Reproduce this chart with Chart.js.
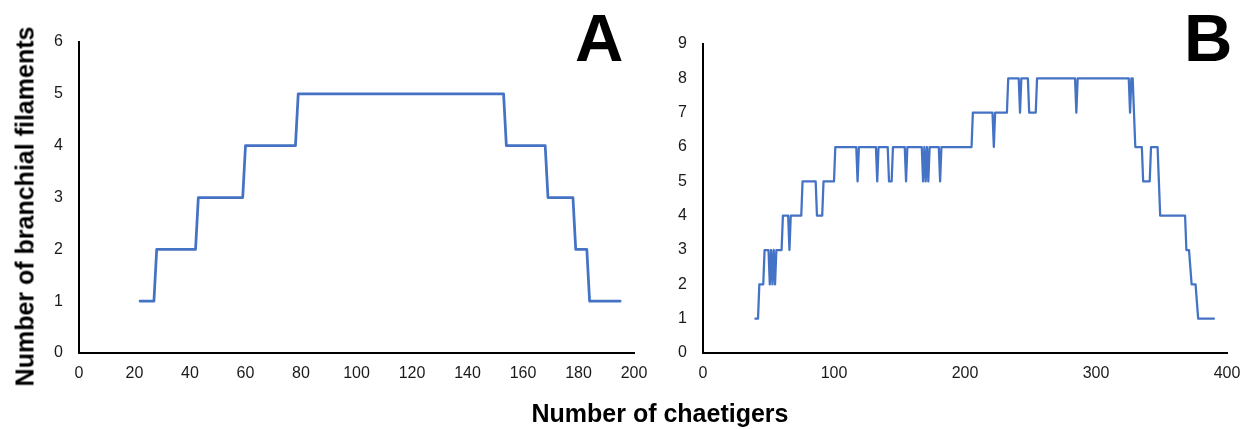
<!DOCTYPE html>
<html>
<head>
<meta charset="utf-8">
<script src="https://cdn.jsdelivr.net/npm/chart.js@4.4.1/dist/chart.umd.min.js"></script>
<style>
  html, body { margin: 0; padding: 0; background: #fff; }
  body { width: 1244px; height: 429px; position: relative; overflow: hidden; font-family: "Liberation Sans", Arial, sans-serif; }
  canvas { position: absolute; top: 0; }
  .lbl { position: absolute; font-weight: bold; color: #000; white-space: nowrap; }
</style>
</head>
<body>
<canvas id="chartA" width="660" height="429" style="left:0px;width:660px;height:429px"></canvas>
<canvas id="chartB" width="584" height="429" style="left:660px;width:584px;height:429px"></canvas>
<div class="lbl" style="left:575px;top:4px;font-size:67px;line-height:67px;">A</div>
<div class="lbl" style="left:1184px;top:4px;font-size:67px;line-height:67px;">B</div>
<div class="lbl" style="left:460px;top:401px;width:400px;text-align:center;font-size:25px;line-height:25px;">Number of chaetigers</div>
<div class="lbl" style="left:-175px;top:194px;width:400px;text-align:center;font-size:25px;line-height:25px;transform:rotate(-90deg);transform-origin:center center;">Number of branchial filaments</div>
<script>
// ---- Panel A data (chaetiger number, number of branchial filaments) ----
const chaetigersA = [22, 27, 28, 42, 43, 59, 60, 78, 79, 153, 154, 168, 169, 178, 179, 183, 184, 195];
const filamentsA  = [ 1,  1,  2,  2,  3,  3,  4,  4,  5,   5,   4,   4,   3,   3,   2,   2,   1,   1];

// ---- Panel B data ----
const chaetigersB = [40, 42, 43, 46, 47, 50, 51, 52, 53, 54, 55, 56, 60, 61, 65, 66, 67, 75, 76, 86,
                     87, 91, 92, 100, 101, 117, 118, 119, 132, 133, 134, 141, 142, 144, 145, 154, 155, 156, 167, 168,
                     169, 170, 171, 172, 173, 174, 180, 181, 182, 205, 206, 221, 222, 223, 232, 233, 241, 242, 243, 248,
                     249, 254, 255, 284, 285, 286, 325, 326, 327, 328, 330, 335, 336, 341, 342, 346, 347, 348, 349, 368,
                     369, 371, 373, 376, 378, 390];
const filamentsB  = [1, 1, 2, 2, 3, 3, 2, 3, 2, 3, 2, 3, 3, 4, 4, 3, 4, 4, 5, 5,
                     4, 4, 5, 5, 6, 6, 5, 6, 6, 5, 6, 6, 5, 5, 6, 6, 5, 6, 6, 5,
                     6, 5, 6, 5, 6, 6, 6, 5, 6, 6, 7, 7, 6, 7, 7, 8, 8, 7, 8, 8,
                     7, 7, 8, 8, 7, 8, 8, 7, 8, 8, 6, 6, 5, 5, 6, 6, 6, 5, 4, 4,
                     3, 3, 2, 2, 1, 1];

// ---- Axis ticks ----
const xTicksA = [0, 20, 40, 60, 80, 100, 120, 140, 160, 180, 200];
const yTicksA = [0, 1, 2, 3, 4, 5, 6];
const xTicksB = [0, 100, 200, 300, 400];
const yTicksB = [0, 1, 2, 3, 4, 5, 6, 7, 8, 9];

const LINE_COLOR = '#4472C4';
const TICK_FONT = { family: '"Liberation Sans", Arial, sans-serif', size: 16 };
const TICK_COLOR = '#1a1a1a';

function toPoints(xs, ys) { return xs.map((x, i) => ({ x: x, y: ys[i] })); }

function makeChart(id, xs, ys, xTicks, yTicks, opts) {
  const xMin = xTicks[0], xMax = xTicks[xTicks.length - 1];
  const yMin = yTicks[0], yMax = yTicks[yTicks.length - 1];
  return new Chart(document.getElementById(id), {
    type: 'line',
    data: {
      datasets: [{
        data: toPoints(xs, ys),
        borderColor: LINE_COLOR,
        borderWidth: opts.lineWidth,
        pointRadius: 0,
        tension: 0,
        fill: false,
        borderJoinStyle: 'round',
        borderCapStyle: 'round'
      }]
    },
    options: {
      responsive: false,
      animation: false,
      devicePixelRatio: 1,
      layout: { padding: { top: opts.top, right: opts.right, left: 0, bottom: 0 } },
      plugins: { legend: { display: false }, tooltip: { enabled: false } },
      scales: {
        x: {
          type: 'linear',
          min: xMin, max: xMax,
          afterBuildTicks: (s) => { s.ticks = xTicks.map(v => ({ value: v })); },
          afterFit: (s) => { s.height = opts.xAxisH; s.paddingLeft = 0; s.paddingRight = 0; },
          grid: { display: false, drawTicks: false },
          border: { display: true, color: '#000', width: 2 },
          ticks: { font: TICK_FONT, color: TICK_COLOR, padding: 11, maxRotation: 0, autoSkip: false }
        },
        y: {
          type: 'linear',
          min: yMin, max: yMax,
          afterBuildTicks: (s) => { s.ticks = yTicks.map(v => ({ value: v })); },
          afterFit: (s) => { s.width = opts.yAxisW; s.paddingTop = 0; s.paddingBottom = 0; },
          grid: { display: false, drawTicks: false },
          border: { display: true, color: '#000', width: 2 },
          ticks: { font: TICK_FONT, color: TICK_COLOR, padding: 16, autoSkip: false }
        }
      }
    }
  });
}

makeChart('chartA', chaetigersA, filamentsA, xTicksA, yTicksA,
  { top: 42, right: 26, yAxisW: 79, xAxisH: 76, lineWidth: 2.75 });
makeChart('chartB', chaetigersB, filamentsB, xTicksB, yTicksB,
  { top: 44, right: 17, yAxisW: 43, xAxisH: 76, lineWidth: 2.25 });
</script>
</body>
</html>
